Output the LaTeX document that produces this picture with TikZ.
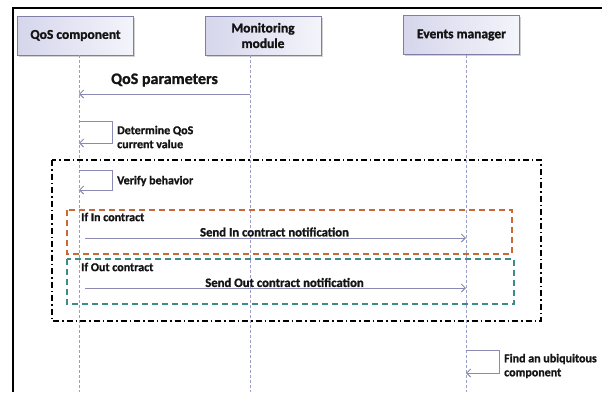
\documentclass[tikz,border=0pt]{standalone}
\usepackage{fontspec}
\setmainfont{Carlito}[BoldFeatures={FakeBold=1.2}]
\usetikzlibrary{arrows.meta,shadows}
\definecolor{boxdraw}{HTML}{7E7EA6}
\definecolor{boxlight}{HTML}{F4F4FB}
\definecolor{boxdark}{HTML}{D6D6EC}
\definecolor{lifec}{HTML}{9C9CC8}
\definecolor{msgc}{HTML}{8A8AB4}
\definecolor{inc}{HTML}{C96A35}
\definecolor{outc}{HTML}{3E8C8A}
\definecolor{txt}{HTML}{141414}
\begin{document}
\begin{tikzpicture}[x=1pt,y=-1pt,
  hdr/.style={draw=boxdraw, line width=0.8pt, left color=boxdark, right color=boxlight,
    minimum width=116pt, minimum height=39pt, align=center, inner sep=2pt,
    font=\bfseries\fontsize{13.5}{15.5}\selectfont, text=txt,
    drop shadow={shadow xshift=1.5pt, shadow yshift=-1.5pt, opacity=0.35}},
  life/.style={draw=lifec, line width=0.8pt, dash pattern=on 3pt off 2pt},
  msg/.style={draw=msgc, line width=0.9pt, -{Straight Barb[length=4pt,width=8pt]}},
  lbl/.style={font=\bfseries\fontsize{12}{14}\selectfont, text=txt, inner sep=0pt, align=left},
  sendlbl/.style={font=\bfseries\fontsize{12.7}{14}\selectfont, text=txt, inner sep=0pt},
  biglbl/.style={font=\bfseries\fontsize{16}{18}\selectfont, text=txt, inner sep=0pt},
  frame/.style={draw=black, line width=1.3pt, dash pattern=on 6pt off 3pt on 1.5pt off 3pt},
  infrag/.style={draw=inc, line width=1.1pt, dash pattern=on 6pt off 4pt},
  outfrag/.style={draw=outc, line width=1.1pt, dash pattern=on 6pt off 4pt}]
\useasboundingbox (0,0) rectangle (602,392);
\fill[white] (0,0) rectangle (602,392);
% outer border (top and left)
\draw[line width=2.4pt, black] (13,392) -- (13,8) -- (602,8);
% headers
\node[hdr] (q) at (75.5,35.5) {QoS component};
\node[hdr] (m) at (263,35.5) {Monitoring\\module};
\node[hdr] (e) at (461.5,35) {Events manager};
% lifeline ends
\coordinate (qb) at (79,392);
\coordinate (mb) at (250,392);
\coordinate (eb) at (466,392);
\draw[life] (q.south -| qb) -- (qb);
\draw[life] (m.south -| mb) -- (mb);
\draw[life] (e.south -| eb) -- (eb);
% QoS parameters
\coordinate (m1) at (250,94);
\coordinate (q1) at (79,94);
\draw[msg] (m1) -- (q1);
\node[biglbl] (l1) at (164.5,80) {QoS parameters};
% Determine QoS
\coordinate (d1) at (79,121);
\coordinate (d2) at (112,121);
\coordinate (d3) at (112,143);
\coordinate (d4) at (79,143);
\draw[msg] (d1) -- (d2) -- (d3) -- (d4);
\node[lbl, anchor=west] (l2) at (117,137) {Determine QoS\\current value};
% combined fragment
\draw[frame] (52,160) rectangle (541,321);
% Verify behavior
\coordinate (v1) at (79,170);
\coordinate (v2) at (112,170);
\coordinate (v3) at (112,190);
\coordinate (v4) at (79,190);
\draw[msg] (v1) -- (v2) -- (v3) -- (v4);
\node[lbl, anchor=west] (l3) at (117,181) {Verify behavior};
% In contract
\draw[infrag] (67,210) rectangle (512,254);
\node[lbl, anchor=west] (l4) at (81,217) {If In contract};
\coordinate (i1) at (85,238);
\coordinate (i2) at (466,238);
\draw[msg] (i1) -- (i2);
\node[sendlbl] (l5) at (274.5,232) {Send In contract notification};
% Out contract
\draw[outfrag] (67,259) rectangle (514,304);
\node[lbl, anchor=west] (l6) at (81,267) {If Out contract};
\coordinate (o1) at (85,288);
\coordinate (o2) at (466,288);
\draw[msg] (o1) -- (o2);
\node[sendlbl] (l7) at (284.5,282.5) {Send Out contract notification};
% Find an ubiquitous component
\coordinate (f1) at (466,350);
\coordinate (f2) at (499,350);
\coordinate (f3) at (499,373);
\coordinate (f4) at (466,373);
\draw[msg] (f1) -- (f2) -- (f3) -- (f4);
\node[lbl, anchor=west] (l8) at (504,366) {Find an ubiquitous\\component};
\end{tikzpicture}
\end{document}
